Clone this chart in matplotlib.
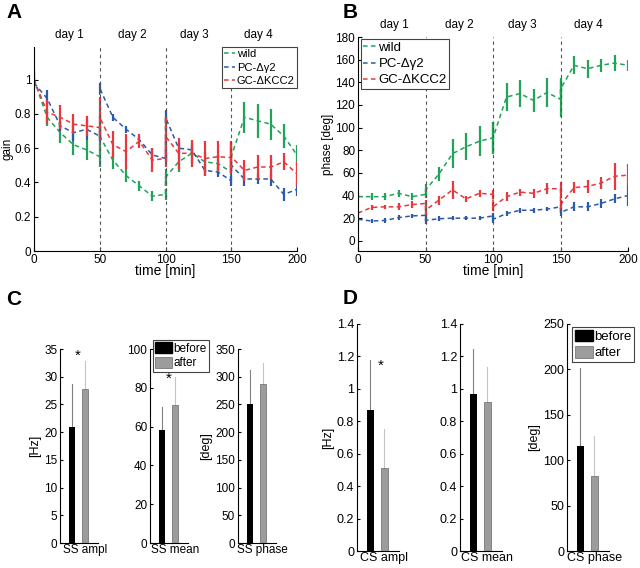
import numpy as np
import matplotlib
matplotlib.use("Agg")
import matplotlib.pyplot as plt
from matplotlib.ticker import FuncFormatter
from matplotlib.patches import Patch

plt.rcParams['font.family'] = ['Liberation Sans', 'DejaVu Sans']
plt.rcParams['font.size'] = 8.5

# time course: 4 days, 6 samples per day (0..50 min within a day)
day_start = [0, 50, 100, 150]
day_offset = [0, 10, 20, 30, 40, 50]
day_names = ['day 1', 'day 2', 'day 3', 'day 4']
day_label_x = [27, 75, 122, 171]
groups = ['wild', 'PC-\u0394\u03b32', 'GC-\u0394KCC2']
group_colors = ['#22a35a', '#2b5aa8', '#e8383d']

gain_wild = [1.00, 0.78, 0.69, 0.62, 0.59, 0.55,
             0.67, 0.53, 0.44, 0.38, 0.32, 0.33,
             0.43, 0.52, 0.57, 0.52, 0.51, 0.46,
             0.55, 0.78, 0.76, 0.74, 0.67, 0.56]
gain_wild_err = [0.06, 0.05, 0.06, 0.06, 0.06, 0.06,
                 0.06, 0.05, 0.04, 0.03, 0.03, 0.03,
                 0.05, 0.06, 0.06, 0.06, 0.05, 0.05,
                 0.06, 0.09, 0.10, 0.09, 0.07, 0.06]
gain_pc = [0.98, 0.89, 0.73, 0.69, 0.71, 0.67,
           0.95, 0.78, 0.71, 0.65, 0.56, 0.54,
           0.78, 0.60, 0.59, 0.47, 0.46, 0.41,
           0.50, 0.42, 0.42, 0.42, 0.33, 0.36]
gain_pc_err = [0.03, 0.05, 0.03, 0.05, 0.06, 0.03,
               0.03, 0.02, 0.02, 0.02, 0.04, 0.02,
               0.04, 0.03, 0.02, 0.03, 0.03, 0.03,
               0.03, 0.04, 0.03, 0.04, 0.04, 0.04]
gain_gc = [1.00, 0.81, 0.78, 0.74, 0.73, 0.72,
           0.78, 0.62, 0.58, 0.64, 0.53, 0.54,
           0.67, 0.57, 0.57, 0.54, 0.55, 0.545,
           0.55, 0.47, 0.49, 0.49, 0.52, 0.45]
gain_gc_err = [0.04, 0.07, 0.07, 0.06, 0.06, 0.07,
               0.12, 0.08, 0.10, 0.04, 0.07, 0.05,
               0.12, 0.09, 0.08, 0.10, 0.09, 0.09,
               0.09, 0.06, 0.07, 0.07, 0.05, 0.07]

phase_wild = [39, 39, 39, 42, 39, 41,
              45, 59, 77, 83, 88, 91,
              91, 127, 130, 124, 131, 125,
              134, 155, 152, 155, 157, 155]
phase_wild_err = [3, 3, 3, 3, 3, 3,
                  5, 6, 13, 12, 13, 14,
                  14, 12, 12, 10, 13, 16,
                  10, 8, 8, 6, 7, 5]
phase_pc = [19, 17.5, 18, 20.5, 22, 22.5,
            18, 19.5, 20, 20, 20, 22,
            19, 24, 27, 27, 28, 30,
            25, 30, 30, 33, 37, 40]
phase_pc_err = [2, 2, 2, 2, 2, 2,
                3, 2, 2, 2, 2, 3,
                3, 2, 2, 2, 2, 2,
                3, 4, 4, 4, 4, 9]
phase_gc = [24.5, 29.5, 30, 30, 32, 33,
            27, 36, 45, 37, 42, 41,
            30, 39, 43, 42, 46, 46,
            32, 47, 48, 51, 57, 58]
phase_gc_err = [2, 2, 2, 3, 3, 3,
                4, 4, 8, 3, 3, 4,
                4, 4, 3, 4, 5, 6,
                4, 5, 6, 5, 12, 10]

# simple spike (SS) and complex spike (CS) bars
ss_labels = ['SS ampl', 'SS mean', 'SS phase']
ss_before = [20.9, 58.5, 250]
ss_before_err = [7.7, 11.8, 62]
ss_after = [27.8, 71.0, 286]
ss_after_err = [5.0, 14.5, 38]
ss_ylabels = ['[Hz]', '', '[deg]']
ss_ylim = [35, 100, 350]
ss_ystep = [5, 20, 50]
ss_star = [(1.45, 33.8), (1.5, 84.5), None]

cs_labels = ['CS ampl', 'CS mean', 'CS phase']
cs_before = [0.87, 0.97, 115.5]
cs_before_err = [0.31, 0.275, 86]
cs_after = [0.51, 0.92, 82.5]
cs_after_err = [0.245, 0.215, 44]
cs_ylabels = ['[Hz]', '', '[deg]']
cs_ylim = [1.4, 1.4, 250]
cs_ystep = [0.2, 0.2, 50]
cs_star = [(1.72, 1.14), None, None]

W, H = 640, 568
fig = plt.figure(figsize=(6.4, 5.68), dpi=100)


def px_axes(left, top, right, bottom):
    return fig.add_axes([left / W, 1 - bottom / H, (right - left) / W, (bottom - top) / H])


gfmt = FuncFormatter(lambda v, p: '%g' % round(v, 6))
xs = np.array([s + o for s in day_start for o in day_offset])


def time_panel(ax, series, errs, ylim, yticks, ylabel, leg_loc, leg_anchor, leg_fs):
    for vals, e, c, name in zip(series, errs, group_colors, groups):
        ax.errorbar(xs, vals, yerr=e, fmt='none', ecolor=c, elinewidth=1.6, capsize=0)
        ax.plot(xs, vals, '--', color=c, lw=1.1, dashes=(3, 2.2), label=name)
    for b in day_start[1:]:
        ax.axvline(b, color='#555555', ls=(0, (3, 3)), lw=0.8)
    ax.set_xlim(0, 200)
    ax.set_ylim(*ylim)
    ax.set_yticks(yticks)
    ax.set_xticks([0, 50, 100, 150, 200])
    ax.yaxis.set_major_formatter(gfmt)
    ax.spines['top'].set_visible(False)
    ax.spines['right'].set_visible(False)
    ax.tick_params(direction='in', length=3, labelsize=8.5, pad=2)
    ax.set_xlabel('time [min]', fontsize=10, labelpad=-1)
    ax.set_ylabel(ylabel, fontsize=8.5, labelpad=1)
    for name, xc in zip(day_names, day_label_x):
        ax.text(xc, 1.03, name, transform=ax.get_xaxis_transform(), ha='center',
                va='bottom', fontsize=8.5)
    leg = ax.legend(loc=leg_loc, bbox_to_anchor=leg_anchor, fontsize=leg_fs,
                    handlelength=1.0, handletextpad=0.15, borderpad=0.2, labelspacing=0.3,
                    fancybox=False, framealpha=1, borderaxespad=0)
    leg.get_frame().set_edgecolor('#444444')
    leg.get_frame().set_linewidth(0.8)


axA = px_axes(34, 47, 297, 251)
time_panel(axA, [gain_wild, gain_pc, gain_gc], [gain_wild_err, gain_pc_err, gain_gc_err],
           (0, 1.19), np.arange(0, 1.01, 0.2), 'gain', 'upper right', (1.0, 1.0), 8)

axB = px_axes(358, 37, 628, 251)
time_panel(axB, [phase_wild, phase_pc, phase_gc], [phase_wild_err, phase_pc_err, phase_gc_err],
           (-9, 180), np.arange(0, 181, 20), 'phase [deg]', 'upper left', (0.01, 0.99), 9.5)


def bar_panel(ax, label, before, be, after, ae, ylabel, ymax, ystep, star, fs):
    ax.plot([1, 1], [before, before + be], color='#808080', lw=0.8, zorder=1)
    ax.plot([2, 2], [after, after + ae], color='#c4c4c4', lw=0.8, zorder=1)
    ax.bar([1], [before], width=0.5, color='black', zorder=2)
    ax.bar([2], [after], width=0.5, color='#9c9c9c', edgecolor='#666666', lw=0.5, zorder=2)
    ax.set_xlim(0.05, 3.05)
    ax.set_ylim(0, ymax)
    ax.set_yticks(np.arange(0, ymax + ystep / 2, ystep))
    ax.yaxis.set_major_formatter(gfmt)
    ax.set_xticks([2])
    ax.set_xticklabels([label])
    ax.spines['top'].set_visible(False)
    ax.spines['right'].set_visible(False)
    ax.tick_params(direction='in', length=2.5, labelsize=fs, pad=2)
    ax.tick_params(axis='x', length=0, pad=1)
    if ylabel:
        ax.set_ylabel(ylabel, fontsize=9, labelpad=2)
    if star:
        ax.text(star[0], star[1], '*', ha='center', va='center', fontsize=11)


for i, left in enumerate([60, 150, 238]):
    ax = px_axes(left, 349, left + 38, 543)
    bar_panel(ax, ss_labels[i], ss_before[i], ss_before_err[i], ss_after[i], ss_after_err[i],
              ss_ylabels[i], ss_ylim[i], ss_ystep[i], ss_star[i], 8.5)

for i, left in enumerate([357, 460, 567]):
    ax = px_axes(left, 324, left + 42, 551)
    bar_panel(ax, cs_labels[i], cs_before[i], cs_before_err[i], cs_after[i], cs_after_err[i],
              cs_ylabels[i], cs_ylim[i], cs_ystep[i], cs_star[i], 9)

handles = [Patch(facecolor='black', edgecolor='black'),
           Patch(facecolor='#9c9c9c', edgecolor='#666666', lw=0.5)]
for x0, y0, fs in [(153, 340, 8.5), (572, 327, 9.5)]:
    leg = fig.legend(handles, ['before', 'after'], loc='upper left',
                     bbox_to_anchor=(x0 / W, 1 - y0 / H), fontsize=fs, handlelength=1.4,
                     handleheight=1.0, handletextpad=0.1, borderpad=0.2, labelspacing=0.2,
                     fancybox=False, framealpha=1, borderaxespad=0)
    leg.get_frame().set_edgecolor('#444444')
    leg.get_frame().set_linewidth(0.8)

for letter, x0, y0 in [('A', 6, 3), ('B', 343, 3), ('C', 6, 290), ('D', 343, 289)]:
    fig.text(x0 / W, 1 - y0 / H, letter, fontsize=15, fontweight='bold', va='top', ha='left')

fig.savefig('out.png', dpi=100)
